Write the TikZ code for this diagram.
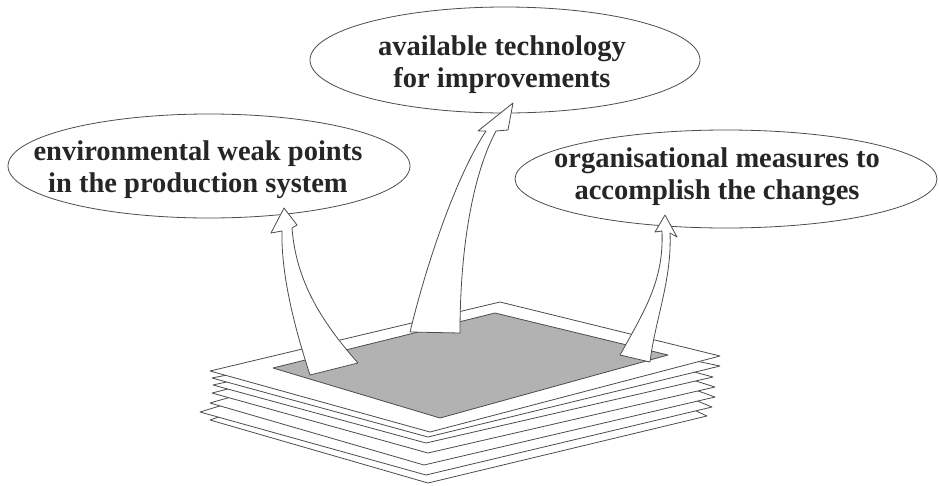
\documentclass[tikz,border=0pt]{standalone}
\usepackage{fontspec}
\setmainfont{Liberation Serif}
\usetikzlibrary{shapes.geometric}
\begin{document}
\begin{tikzpicture}[x=1pt,y=-1pt,
  outline/.style={draw=black!70,line width=0.8pt,line join=round},
  bubble/.style={ellipse,outline,fill=white,inner sep=0pt},
  bubbletext/.style={align=center,text=black!85,font=\bfseries\fontsize{28.5}{32}\selectfont},
  sheet/.style={outline,fill=white},
  blockarrow/.style={outline,fill=white}]
\useasboundingbox (0,0) rectangle (939,485);

% stack of paper, lowest sheet first
\foreach \lx/\ly/\bx/\by/\rx/\ry in {
  210/420/428/483/707/416,
  200/412/426/475/712/407,
  210/403/424/465/715/397,
  212/393/428/453/715/387,
  213/385/426/443/713/377,
  212/378/428/437/720/366}{
  \path[sheet] (\lx,\ly) -- (\bx,\by) -- (\rx,\ry) -- (500,320) -- cycle;
}
% top sheet with the shaded page area
\path[sheet] (210,371) -- (430,432) -- (720,356) -- (500,302) -- cycle;
\path[outline,fill=black!30] (273,368) -- (440,418) -- (668,355) -- (495,313) -- cycle;

% bubbles
\node[bubble,minimum width=402pt,minimum height=104pt] (weak) at (209,166) {};
\node[bubble,minimum width=390pt,minimum height=106pt] (tech) at (505,60) {};
\node[bubble,minimum width=422pt,minimum height=98pt] (org) at (726,179) {};
\node[bubbletext] (weaktext) at (198,170) {environmental weak points\\in the production system};
\node[bubbletext] (techtext) at (502,65) {available technology\\for improvements};
\node[bubbletext] (orgtext) at (717,177) {organisational measures to\\accomplish the changes};

% curved block arrows rising from the page
\path[blockarrow] (310,375) .. controls (292,320) and (281,270) .. (282,231)
  -- (271,233) -- (284,208) -- (297,225) -- (292,228)
  .. controls (296,280) and (320,320) .. (358,363) -- cycle;
\path[blockarrow] (410,332) .. controls (430,250) and (460,170) .. (486,131)
  -- (478,131) -- (513,103) -- (508,130) -- (496,131)
  .. controls (475,170) and (460,240) .. (460,333) -- cycle;
\path[blockarrow] (620,355) .. controls (645,310) and (664,280) .. (662,231)
  -- (655,232) -- (665,215) -- (677,237) -- (670,233)
  .. controls (672,280) and (655,320) .. (650,362) -- cycle;
\end{tikzpicture}
\end{document}
